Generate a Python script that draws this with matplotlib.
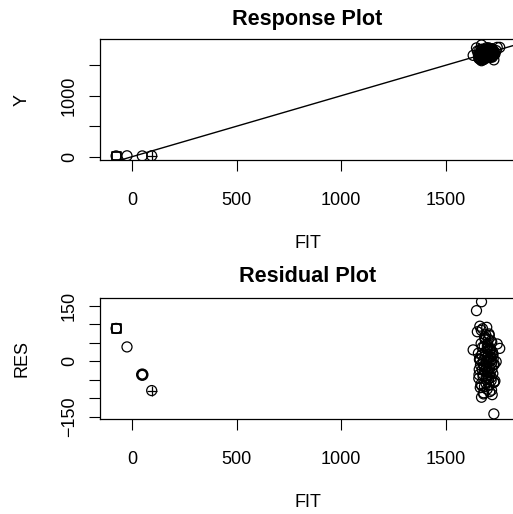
import matplotlib
matplotlib.use("Agg")
import matplotlib.pyplot as plt
import numpy as np

plt.rcParams['font.family'] = ['Liberation Sans', 'DejaVu Sans']

# small cases (fit, residual)
low_fit = [-76, -24, 49, 94]
low_res = [89, 39, -36, -79]

# the big cluster
clu_fit = [1662, 1675, 1690, 1702, 1715, 1668, 1683, 1698, 1710, 1722,
           1655, 1672, 1688, 1700, 1712, 1726, 1660, 1679, 1694, 1706,
           1718, 1731, 1665, 1681, 1696, 1708, 1720, 1673, 1686, 1699,
           1711, 1724, 1658, 1677, 1692, 1704, 1716, 1729, 1667, 1684,
           1697, 1709, 1721, 1670, 1687, 1701, 1713, 1725, 1661, 1676,
           1691, 1703, 1717, 1730, 1664, 1680, 1695, 1707, 1719, 1674,
           1689, 1700, 1714, 1727, 1659, 1678, 1693, 1705, 1718, 1669,
           1685, 1698, 1711, 1723, 1663, 1682, 1696, 1709, 1734, 1671,
           1650, 1688, 1702, 1740, 1657, 1680, 1715, 1745, 1692, 1706,
           1670, 1646, 1729, 1630, 1757]
clu_res = [95, 88, 72, 60, 55, 48, 40, 35, 30, 26,
           22, 18, 15, 12, 10, 8, 5, 3, 0, -2,
           -5, -8, -10, -12, -15, -18, -20, -23, -25, -28,
           -30, -33, -36, -40, -44, -48, -52, -57, -62, -68,
           -75, -82, -90, -97, 62, 45, 33, 20, 7, -6,
           -19, -31, -43, -56, -71, -85, 92, 70, 52, 38,
           25, 14, 2, -9, -22, -35, -49, -63, -78, 84,
           66, 41, 28, 16, 4, -14, -27, -39, -53, -66,
           80, 58, 31, -1, -46, -88, 12, 47, -60, 74,
           161, 137, -142, 31, 35]

fit = np.array(low_fit + clu_fit)
res = np.array(low_res + clu_res)
y = fit + res

W, H = 513, 514
fig = plt.figure(figsize=(W / 100, H / 100), dpi=100)

ax1 = fig.add_axes([100 / W, 1 - 160 / H, 415 / W, 121 / H])
ax2 = fig.add_axes([100 / W, 1 - 418.7 / H, 415 / W, 121 / H])

mk = dict(marker='o', s=52, facecolors='none', edgecolors='black', linewidths=0.9)

# response plot
ax1.scatter(fit, y, **mk)
ax1.scatter(low_fit[0], y[0], marker='s', s=40, facecolors='none', edgecolors='black', linewidths=1.3)
ax1.scatter(low_fit[3], y[3], marker='+', s=60, color='black', linewidths=0.9)
ax1.axline((0, 0), slope=1, color='black', lw=1)
ax1.set_xlim(-153, 1830)
ax1.set_ylim(-54, 1929)
ax1.set_yticks([0, 500, 1000, 1500])
ax1.set_yticklabels(['0', '', '1000', ''])
ax1.set_title('Response Plot', fontsize=15.6, fontweight='bold', pad=10)
ax1.set_ylabel('Y', fontsize=13, labelpad=22)

# residual plot
ax2.scatter(fit, res, **mk)
ax2.scatter(low_fit[2], res[2], marker='o', s=52, facecolors='none', edgecolors='black', linewidths=1.8)
ax2.scatter(low_fit[0], res[0], marker='s', s=40, facecolors='none', edgecolors='black', linewidths=1.3)
ax2.scatter(low_fit[3], res[3], marker='+', s=60, color='black', linewidths=0.9)
ax2.set_xlim(-153, 1830)
ax2.set_ylim(-155, 172)
ax2.set_yticks([-150, -100, -50, 0, 50, 100, 150])
ax2.set_yticklabels(['\u2212150', '', '', '0', '', '', '150'])
ax2.set_title('Residual Plot', fontsize=15.6, fontweight='bold', pad=11)
ax2.set_ylabel('RES', fontsize=13, labelpad=22)

for ax in (ax1, ax2):
    ax.set_xticks([0, 500, 1000, 1500])
    ax.set_xlabel('FIT', fontsize=13, labelpad=19)
    ax.tick_params(axis='x', length=8, width=0.8, labelsize=13, pad=15)
    ax.tick_params(axis='y', length=8, width=0.8, labelsize=13, pad=8, labelrotation=90)
    for lab in ax.get_yticklabels():
        lab.set_verticalalignment('center')
    for sp in ax.spines.values():
        sp.set_linewidth(0.9)

fig.savefig('out.png', dpi=100)
